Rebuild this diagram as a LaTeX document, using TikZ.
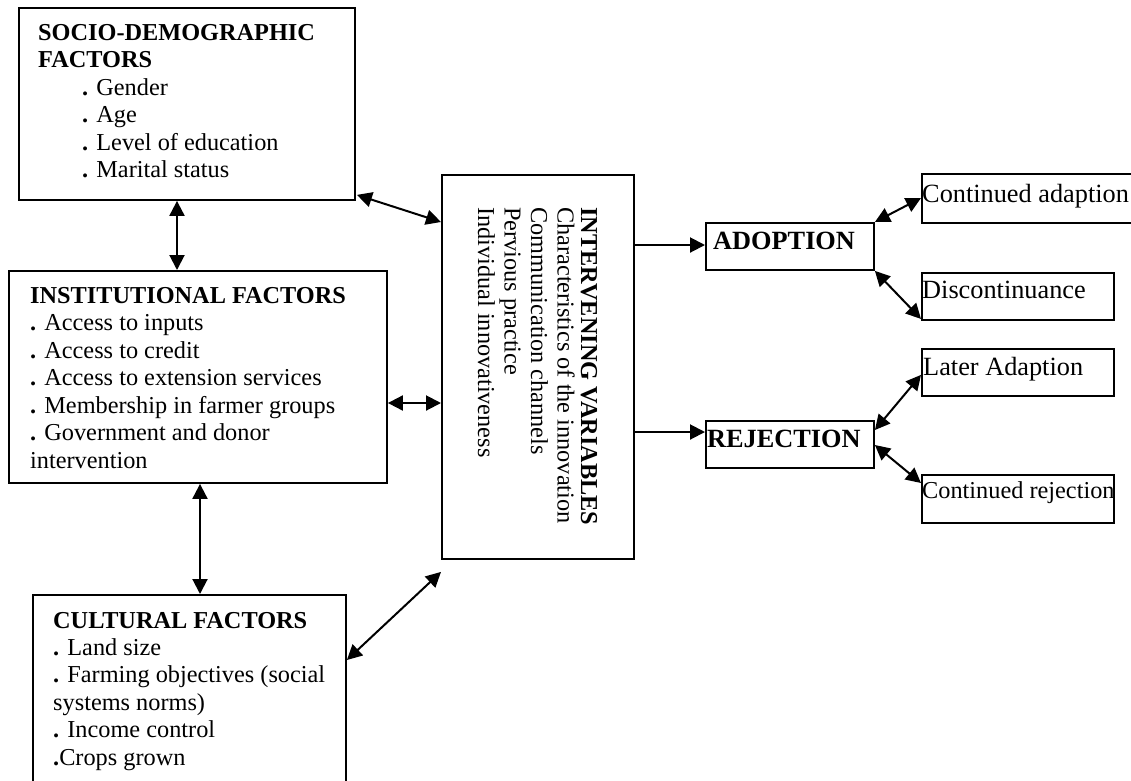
\documentclass[tikz,border=0pt]{standalone}
\usepackage{fontspec}
\setmainfont{Liberation Serif}
\usetikzlibrary{arrows.meta,calc}
\newcommand\boxlines[1]{\begin{tabular}[t]{@{}l@{}}#1\end{tabular}}
\newcommand\itm{{\bfseries .}}
\begin{document}
\begin{tikzpicture}[x=1pt,y=-1pt,
  frame/.style={draw, line width=1.9pt, inner sep=0pt, anchor=north west},
  txt/.style={inner sep=0pt, anchor=base west, font=\fontsize{24.3}{27.5}\selectfont},
  big/.style={inner sep=0pt, anchor=base west, font=\fontsize{26.3}{30}\selectfont},
  tip/.tip={Triangle[length=15pt,width=15pt]},
  link/.style={line width=2pt, tip-tip},
  oneway/.style={line width=2pt, -tip}]
\useasboundingbox (0,0) rectangle (1131,780);
% boxes
\node[frame, minimum width=336pt, minimum height=192pt] (soc) at (18,7) {};
\node[frame, minimum width=378pt, minimum height=212pt] (inst) at (8,270) {};
\node[frame, minimum width=313pt, minimum height=200pt] (cult) at (32,594) {};
\node[frame, minimum width=192pt, minimum height=384pt] (iv) at (441,174) {};
\node[frame, minimum width=168pt, minimum height=47pt] (ado) at (705,222) {};
\node[frame, minimum width=168pt, minimum height=47pt] (rej) at (705,420) {};
\node[frame, minimum width=220pt, minimum height=49pt] (ca) at (921,173) {};
\node[frame, minimum width=192pt, minimum height=47pt] (di) at (921,272) {};
\node[frame, minimum width=192pt, minimum height=47pt] (la) at (921,348) {};
\node[frame, minimum width=192pt, minimum height=48pt] (cr) at (921,474) {};
% texts
\node[txt] (tsoc) at (38,40) {\boxlines{\textbf{SOCIO-DEMOGRAPHIC}\\
  \textbf{FACTORS}\\
  \hspace{44pt}\itm{} Gender\\
  \hspace{44pt}\itm{} Age\\
  \hspace{44pt}\itm{} Level of education\\
  \hspace{44pt}\itm{} Marital status}};
\node[txt] (tinst) at (30,303) {\boxlines{\textbf{INSTITUTIONAL FACTORS}\\
  \itm{} Access to inputs\\
  \itm{} Access to credit\\
  \itm{} Access to extension services\\
  \itm{} Membership in farmer groups\\
  \itm{} Government and donor\\
  intervention}};
\node[txt, font=\fontsize{24.3}{27.4}\selectfont] (tcult) at (53,628) {\boxlines{\textbf{CULTURAL FACTORS}\\
  \itm{} Land size\\
  \itm{} Farming objectives (social\\
  systems norms)\\
  \itm{} Income control\\
  \itm{}Crops grown}};
\node[txt, font=\fontsize{24.3}{26.5}\selectfont, rotate=-90] (tiv) at (581,207) {\boxlines{\textbf{INTERVENING VARIABLES}\\[-3pt]
  Characteristics of the innovation\\
  Communication channels\\
  Pervious practice\\
  Individual innovativeness}};
\node[big] (tado) at (713,249) {\textbf{ADOPTION}};
\node[big] (trej) at (707,447) {\textbf{REJECTION}};
\node[big] (tca) at (922,202) {Continued adaption};
\node[big] (tdi) at (922,298) {Discontinuance};
\node[big] (tla) at (923,375) {Later Adaption};
\node[txt] (tcr) at (922,498) {Continued rejection};
% connectors
\draw[link] ($(soc.south west)+(159,0)$) -- ($(inst.north west)+(169,0)$);
\draw[link] ($(soc.south east)+(1,-6)$) -- ($(iv.north west)+(0,48)$);
\draw[link] ($(inst.north east)+(0,133)$) -- ($(iv.north west)+(0,229)$);
\draw[link] ($(inst.south west)+(192,0)$) -- ($(cult.north west)+(168,0)$);
\draw[link] ($(cult.north east)+(0,66)$) -- ($(iv.south west)+(0,12)$);
\draw[oneway] ($(iv.north east)+(0,71)$) -- ($(ado.north west)+(0,23)$);
\draw[oneway] ($(iv.north east)+(0,258)$) -- ($(rej.north west)+(0,12)$);
\draw[link] (ado.north east) -- ($(ca.north west)+(0,25)$);
\draw[link] (ado.south east) -- ($(di.south west)+(0,-2)$);
\draw[link] ($(rej.north east)+(0,10)$) -- ($(la.south west)+(0,-22)$);
\draw[link] ($(rej.north east)+(0,25)$) -- ($(cr.north west)+(0,9)$);
\end{tikzpicture}
\end{document}
